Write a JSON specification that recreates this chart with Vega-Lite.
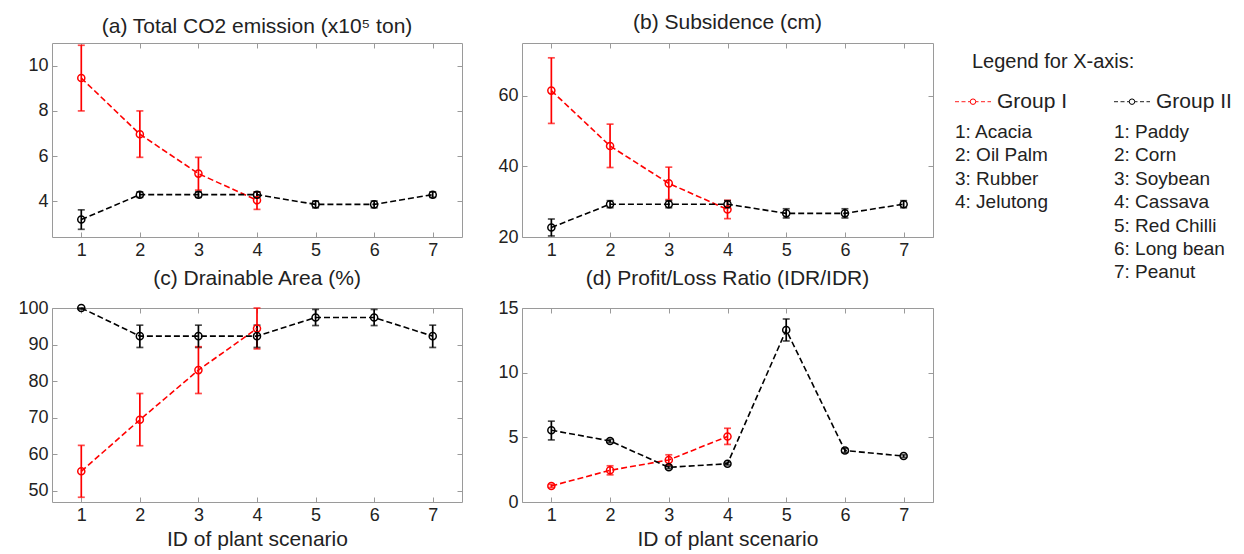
{
  "$schema": "https://vega.github.io/schema/vega-lite/v6.json",
  "padding": {"left": 17, "top": 11, "right": 5, "bottom": 5},
  "background": "white",
  "datasets": {
    "main": [
      {"p": "a", "g": "Group I", "id": 1, "v": 9.45, "lo": 8.0, "hi": 10.9},
      {"p": "a", "g": "Group I", "id": 2, "v": 6.97, "lo": 5.95, "hi": 8.0},
      {"p": "a", "g": "Group I", "id": 3, "v": 5.23, "lo": 4.5, "hi": 5.95},
      {"p": "a", "g": "Group I", "id": 4, "v": 4.05, "lo": 3.65, "hi": 4.42},
      {"p": "a", "g": "Group II", "id": 1, "v": 3.2, "lo": 2.77, "hi": 3.63},
      {"p": "a", "g": "Group II", "id": 2, "v": 4.3, "lo": 4.18, "hi": 4.42},
      {"p": "a", "g": "Group II", "id": 3, "v": 4.3, "lo": 4.18, "hi": 4.42},
      {"p": "a", "g": "Group II", "id": 4, "v": 4.3, "lo": 4.18, "hi": 4.42},
      {"p": "a", "g": "Group II", "id": 5, "v": 3.87, "lo": 3.72, "hi": 4.02},
      {"p": "a", "g": "Group II", "id": 6, "v": 3.87, "lo": 3.72, "hi": 4.02},
      {"p": "a", "g": "Group II", "id": 7, "v": 4.3, "lo": 4.18, "hi": 4.42},
      {"p": "b", "g": "Group I", "id": 1, "v": 61.5, "lo": 52.2, "hi": 70.8},
      {"p": "b", "g": "Group I", "id": 2, "v": 45.8, "lo": 39.7, "hi": 52.0},
      {"p": "b", "g": "Group I", "id": 3, "v": 35.2, "lo": 30.6, "hi": 39.8},
      {"p": "b", "g": "Group I", "id": 4, "v": 27.8, "lo": 25.2, "hi": 30.4},
      {"p": "b", "g": "Group II", "id": 1, "v": 22.7, "lo": 20.3, "hi": 25.1},
      {"p": "b", "g": "Group II", "id": 2, "v": 29.3, "lo": 28.3, "hi": 30.3},
      {"p": "b", "g": "Group II", "id": 3, "v": 29.3, "lo": 28.3, "hi": 30.3},
      {"p": "b", "g": "Group II", "id": 4, "v": 29.3, "lo": 28.3, "hi": 30.3},
      {"p": "b", "g": "Group II", "id": 5, "v": 26.7, "lo": 25.4, "hi": 28.0},
      {"p": "b", "g": "Group II", "id": 6, "v": 26.7, "lo": 25.4, "hi": 28.0},
      {"p": "b", "g": "Group II", "id": 7, "v": 29.3, "lo": 28.3, "hi": 30.3},
      {"p": "c", "g": "Group I", "id": 1, "v": 55.3, "lo": 48.2, "hi": 62.4},
      {"p": "c", "g": "Group I", "id": 2, "v": 69.4, "lo": 62.3, "hi": 76.6},
      {"p": "c", "g": "Group I", "id": 3, "v": 83.0, "lo": 76.6, "hi": 89.4},
      {"p": "c", "g": "Group I", "id": 4, "v": 94.4, "lo": 88.8, "hi": 100},
      {"p": "c", "g": "Group II", "id": 1, "v": 100, "lo": 99.7, "hi": 100},
      {"p": "c", "g": "Group II", "id": 2, "v": 92.3, "lo": 89.2, "hi": 95.3},
      {"p": "c", "g": "Group II", "id": 3, "v": 92.3, "lo": 89.2, "hi": 95.3},
      {"p": "c", "g": "Group II", "id": 4, "v": 92.3, "lo": 89.2, "hi": 95.3},
      {"p": "c", "g": "Group II", "id": 5, "v": 97.4, "lo": 95.2, "hi": 99.6},
      {"p": "c", "g": "Group II", "id": 6, "v": 97.4, "lo": 95.2, "hi": 99.6},
      {"p": "c", "g": "Group II", "id": 7, "v": 92.3, "lo": 89.2, "hi": 95.3},
      {"p": "d", "g": "Group I", "id": 1, "v": 1.24, "lo": 1.12, "hi": 1.36},
      {"p": "d", "g": "Group I", "id": 2, "v": 2.45, "lo": 2.1, "hi": 2.8},
      {"p": "d", "g": "Group I", "id": 3, "v": 3.25, "lo": 2.85, "hi": 3.65},
      {"p": "d", "g": "Group I", "id": 4, "v": 5.07, "lo": 4.45, "hi": 5.7},
      {"p": "d", "g": "Group II", "id": 1, "v": 5.55, "lo": 4.8, "hi": 6.25},
      {"p": "d", "g": "Group II", "id": 2, "v": 4.72, "lo": 4.6, "hi": 4.84},
      {"p": "d", "g": "Group II", "id": 3, "v": 2.68, "lo": 2.58, "hi": 2.78},
      {"p": "d", "g": "Group II", "id": 4, "v": 2.96, "lo": 2.86, "hi": 3.06},
      {"p": "d", "g": "Group II", "id": 5, "v": 13.3, "lo": 12.45, "hi": 14.15},
      {"p": "d", "g": "Group II", "id": 6, "v": 3.98, "lo": 3.83, "hi": 4.13},
      {"p": "d", "g": "Group II", "id": 7, "v": 3.55, "lo": 3.45, "hi": 3.65}
    ],
    "items": [
      {"col": 0, "k": 1, "t": "1: Acacia"},
      {"col": 0, "k": 2, "t": "2: Oil Palm"},
      {"col": 0, "k": 3, "t": "3: Rubber"},
      {"col": 0, "k": 4, "t": "4: Jelutong"},
      {"col": 1, "k": 1, "t": "1: Paddy"},
      {"col": 1, "k": 2, "t": "2: Corn"},
      {"col": 1, "k": 3, "t": "3: Soybean"},
      {"col": 1, "k": 4, "t": "4: Cassava"},
      {"col": 1, "k": 5, "t": "5: Red Chilli"},
      {"col": 1, "k": 6, "t": "6: Long bean"},
      {"col": 1, "k": 7, "t": "7: Peanut"}
    ],
    "groups": [
      {"col": 0, "g": "Group I"},
      {"col": 1, "g": "Group II"}
    ],
    "head": [
      {"col": 0, "t": "Legend for X-axis:"}
    ]
  },
  "hconcat": [
    {
      "columns": 2,
      "spacing": {"row": 7, "column": 34},
      "concat": [
        {
          "data": {"name": "main"},
          "transform": [{"filter": "datum.p == 'a'"}],
          "title": {"text": "(a) Total CO2 emission (x10⁵ ton)", "dy": 4},
          "width": 410, "height": 194,
          "layer": [
            {
              "mark": {"type": "errorbar", "ticks": {"size": 7}, "thickness": 1.7},
              "encoding": {
                "x": {"field": "id", "type": "quantitative", "scale": {"domain": [0.5, 7.5], "nice": false}, "axis": {"values": [1, 2, 3, 4, 5, 6, 7], "title": null}},
                "y": {"field": "lo", "type": "quantitative", "scale": {"domain": [2.43, 11], "nice": false, "zero": false}, "axis": {"values": [4, 6, 8, 10], "title": null}},
                "y2": {"field": "hi"},
                "color": {"field": "g", "type": "nominal", "scale": {"domain": ["Group I", "Group II"], "range": ["#ff0000", "#000000"]}, "legend": null}
              }
            },
            {
              "mark": {"type": "line", "strokeDash": [6, 3], "strokeWidth": 1.6, "point": {"filled": false, "size": 50, "strokeWidth": 1.5}},
              "encoding": {
                "x": {"field": "id", "type": "quantitative", "axis": null},
                "y": {"field": "v", "type": "quantitative", "axis": null},
                "color": {"field": "g", "type": "nominal", "legend": null}
              }
            },
            {
              "mark": {"type": "point", "opacity": 0},
              "encoding": {
                "x": {"field": "id", "type": "quantitative", "axis": {"orient": "top", "labels": false, "title": null, "values": [1, 2, 3, 4, 5, 6, 7]}},
                "y": {"field": "v", "type": "quantitative", "axis": {"orient": "right", "labels": false, "title": null, "values": [4, 6, 8, 10]}}
              }
            }
          ],
          "resolve": {"axis": {"x": "independent", "y": "independent"}}
        },
        {
          "data": {"name": "main"},
          "transform": [{"filter": "datum.p == 'b'"}],
          "title": "(b) Subsidence (cm)",
          "width": 411, "height": 194,
          "layer": [
            {
              "mark": {"type": "errorbar", "ticks": {"size": 7}, "thickness": 1.7},
              "encoding": {
                "x": {"field": "id", "type": "quantitative", "scale": {"domain": [0.5, 7.5], "nice": false}, "axis": {"values": [1, 2, 3, 4, 5, 6, 7], "title": null}},
                "y": {"field": "lo", "type": "quantitative", "scale": {"domain": [20, 75], "nice": false, "zero": false}, "axis": {"values": [20, 40, 60], "title": null}},
                "y2": {"field": "hi"},
                "color": {"field": "g", "type": "nominal", "scale": {"domain": ["Group I", "Group II"], "range": ["#ff0000", "#000000"]}, "legend": null}
              }
            },
            {
              "mark": {"type": "line", "strokeDash": [6, 3], "strokeWidth": 1.6, "point": {"filled": false, "size": 50, "strokeWidth": 1.5}},
              "encoding": {
                "x": {"field": "id", "type": "quantitative", "axis": null},
                "y": {"field": "v", "type": "quantitative", "axis": null},
                "color": {"field": "g", "type": "nominal", "legend": null}
              }
            },
            {
              "mark": {"type": "point", "opacity": 0},
              "encoding": {
                "x": {"field": "id", "type": "quantitative", "axis": {"orient": "top", "labels": false, "title": null, "values": [1, 2, 3, 4, 5, 6, 7]}},
                "y": {"field": "v", "type": "quantitative", "axis": {"orient": "right", "labels": false, "title": null, "values": [20, 40, 60]}}
              }
            }
          ],
          "resolve": {"axis": {"x": "independent", "y": "independent"}}
        },
        {
          "data": {"name": "main"},
          "transform": [{"filter": "datum.p == 'c'"}],
          "title": "(c) Drainable Area (%)",
          "width": 410, "height": 194,
          "layer": [
            {
              "mark": {"type": "errorbar", "ticks": {"size": 7}, "thickness": 1.7},
              "encoding": {
                "x": {"field": "id", "type": "quantitative", "scale": {"domain": [0.5, 7.5], "nice": false}, "axis": {"values": [1, 2, 3, 4, 5, 6, 7], "title": "ID of plant scenario"}},
                "y": {"field": "lo", "type": "quantitative", "scale": {"domain": [46.9, 100], "nice": false, "zero": false}, "axis": {"values": [50, 60, 70, 80, 90, 100], "title": null}},
                "y2": {"field": "hi"},
                "color": {"field": "g", "type": "nominal", "scale": {"domain": ["Group I", "Group II"], "range": ["#ff0000", "#000000"]}, "legend": null}
              }
            },
            {
              "mark": {"type": "line", "strokeDash": [6, 3], "strokeWidth": 1.6, "point": {"filled": false, "size": 50, "strokeWidth": 1.5}},
              "encoding": {
                "x": {"field": "id", "type": "quantitative", "axis": null},
                "y": {"field": "v", "type": "quantitative", "axis": null},
                "color": {"field": "g", "type": "nominal", "legend": null}
              }
            },
            {
              "mark": {"type": "point", "opacity": 0},
              "encoding": {
                "x": {"field": "id", "type": "quantitative", "axis": {"orient": "top", "labels": false, "title": null, "values": [1, 2, 3, 4, 5, 6, 7]}},
                "y": {"field": "v", "type": "quantitative", "axis": {"orient": "right", "labels": false, "title": null, "values": [50, 60, 70, 80, 90, 100]}}
              }
            }
          ],
          "resolve": {"axis": {"x": "independent", "y": "independent"}}
        },
        {
          "data": {"name": "main"},
          "transform": [{"filter": "datum.p == 'd'"}],
          "title": "(d) Profit/Loss Ratio (IDR/IDR)",
          "width": 411, "height": 194,
          "layer": [
            {
              "mark": {"type": "errorbar", "ticks": {"size": 7}, "thickness": 1.7},
              "encoding": {
                "x": {"field": "id", "type": "quantitative", "scale": {"domain": [0.5, 7.5], "nice": false}, "axis": {"values": [1, 2, 3, 4, 5, 6, 7], "title": "ID of plant scenario"}},
                "y": {"field": "lo", "type": "quantitative", "scale": {"domain": [0, 15], "nice": false, "zero": false}, "axis": {"values": [0, 5, 10, 15], "title": null}},
                "y2": {"field": "hi"},
                "color": {"field": "g", "type": "nominal", "scale": {"domain": ["Group I", "Group II"], "range": ["#ff0000", "#000000"]}, "legend": null}
              }
            },
            {
              "mark": {"type": "line", "strokeDash": [6, 3], "strokeWidth": 1.6, "point": {"filled": false, "size": 50, "strokeWidth": 1.5}},
              "encoding": {
                "x": {"field": "id", "type": "quantitative", "axis": null},
                "y": {"field": "v", "type": "quantitative", "axis": null},
                "color": {"field": "g", "type": "nominal", "legend": null}
              }
            },
            {
              "mark": {"type": "point", "opacity": 0},
              "encoding": {
                "x": {"field": "id", "type": "quantitative", "axis": {"orient": "top", "labels": false, "title": null, "values": [1, 2, 3, 4, 5, 6, 7]}},
                "y": {"field": "v", "type": "quantitative", "axis": {"orient": "right", "labels": false, "title": null, "values": [0, 5, 10, 15]}}
              }
            }
          ],
          "resolve": {"axis": {"x": "independent", "y": "independent"}}
        }
      ]
    },
    {
      "width": 280, "height": 241,
      "view": {"stroke": null},
      "layer": [
        {
          "data": {"name": "items"},
          "mark": {"type": "text", "align": "left", "baseline": "middle", "fontSize": 19, "color": "#222"},
          "encoding": {
            "x": {"field": "col", "type": "quantitative", "scale": {"domain": [0, 1], "range": [0, 159]}, "axis": null},
            "y": {"field": "k", "type": "quantitative", "scale": {"domain": [-2.81, 7.5], "reverse": true, "nice": false, "zero": false}, "axis": null},
            "text": {"field": "t"}
          }
        },
        {
          "data": {"name": "head"},
          "mark": {"type": "text", "align": "left", "baseline": "middle", "fontSize": 20, "color": "#222", "dx": 17},
          "encoding": {
            "x": {"field": "col", "type": "quantitative"},
            "y": {"datum": -2, "type": "quantitative"},
            "text": {"field": "t"}
          }
        },
        {
          "data": {"name": "groups"},
          "mark": {"type": "text", "align": "left", "baseline": "middle", "fontSize": 21, "color": "#222", "dx": 42},
          "encoding": {
            "x": {"field": "col", "type": "quantitative"},
            "y": {"datum": -0.3, "type": "quantitative"},
            "text": {"field": "g"}
          }
        },
        {
          "data": {"name": "groups"},
          "mark": {"type": "point", "shape": "M-1,0L1,0", "size": 1296, "strokeWidth": 1.3, "strokeDash": [4, 2.5], "filled": false, "xOffset": 18},
          "encoding": {
            "x": {"field": "col", "type": "quantitative"},
            "y": {"datum": -0.3, "type": "quantitative"},
            "color": {"field": "g", "type": "nominal", "scale": {"domain": ["Group I", "Group II"], "range": ["#ff0000", "#444444"]}, "legend": null}
          }
        },
        {
          "data": {"name": "groups"},
          "mark": {"type": "point", "shape": "circle", "size": 30, "strokeWidth": 1, "filled": false, "fill": "white", "fillOpacity": 1, "xOffset": 18},
          "encoding": {
            "x": {"field": "col", "type": "quantitative"},
            "y": {"datum": -0.3, "type": "quantitative"},
            "color": {"field": "g", "type": "nominal", "legend": null}
          }
        }
      ]
    }
  ],
  "spacing": 18,
  "config": {
    "font": "Liberation Sans",
    "view": {"stroke": "#9a9a9a", "strokeWidth": 1},
    "axis": {"domain": false, "grid": false, "tickSize": -5, "tickColor": "#9a9a9a", "tickWidth": 1, "labelFontSize": 18, "labelColor": "#222", "labelPadding": 9, "titleFontSize": 21, "titleFontWeight": "normal", "titleColor": "#222", "titlePadding": 4, "labelFont": "Liberation Sans", "titleFont": "Liberation Sans"},
    "title": {"fontSize": 21, "fontWeight": "normal", "color": "#222", "offset": 10, "font": "Liberation Sans"}
  }
}
